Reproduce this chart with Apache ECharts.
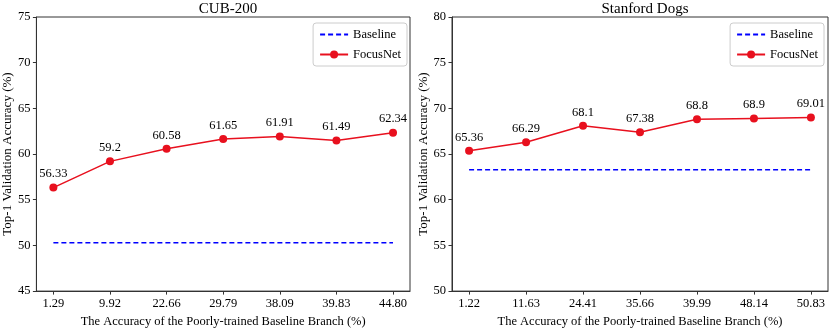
<!DOCTYPE html>
<html>
<head>
<meta charset="utf-8">
<script src="https://cdn.jsdelivr.net/npm/echarts@6/dist/echarts.min.js"></script>
<style>html,body{margin:0;padding:0;background:#fff}#c{width:830px;height:333px}</style>
</head>
<body>
<div id="c"></div>
<script>
const cubLabels = ['1.29','9.92','22.66','29.79','38.09','39.83','44.80'];
const cubFocus = [56.33, 59.2, 60.58, 61.65, 61.91, 61.49, 62.34];
const cubBaseline = [50.3, 50.3, 50.3, 50.3, 50.3, 50.3, 50.3];
const dogLabels = ['1.22','11.63','24.41','35.66','39.99','48.14','50.83'];
const dogFocus = [65.36, 66.29, 68.1, 67.38, 68.8, 68.9, 69.01];
const dogBaseline = [63.27, 63.27, 63.27, 63.27, 63.27, 63.27, 63.27];

const FONT = '"Liberation Serif", "DejaVu Serif", serif';
const FS = 12.5;
const RED = '#e8101e';
const BLUE = '#0000ff';
const idx = [0,1,2,3,4,5,6];

function xAxis(gi, labels){
  return {
    type:'value', gridIndex:gi, min:-0.3, max:6.3,
    name:'The Accuracy of the Poorly-trained Baseline Branch (%)',
    nameLocation:'middle', nameGap:21,
    nameTextStyle:{fontFamily:FONT, fontSize:FS, color:'#000'},
    axisLine:{show:true, onZero:false, lineStyle:{color:'#333', width:1}},
    axisTick:{show:true, length:3.5, customValues:idx, lineStyle:{color:'#333'}},
    axisLabel:{customValues:idx, formatter:v=>labels[Math.round(v)], fontFamily:FONT, fontSize:FS, color:'#000', margin:6},
    splitLine:{show:false}
  };
}
function yAxis(gi, min, max){
  return {
    type:'value', gridIndex:gi, min:min, max:max, interval:5,
    name:'Top-1 Validation Accuracy (%)',
    nameLocation:'middle', nameGap:21,
    nameTextStyle:{fontFamily:FONT, fontSize:13, color:'#000'},
    axisLine:{show:true, onZero:false, lineStyle:{color:'#333', width:1}},
    axisTick:{show:true, length:3.5, lineStyle:{color:'#333'}},
    axisLabel:{fontFamily:FONT, fontSize:FS, color:'#000', margin:6},
    splitLine:{show:false}
  };
}
function pairs(arr){ return arr.map((v,i)=>[i,v]); }
function seriesFor(gi, base, focus){
  return [
    {name:'Baseline', type:'line', xAxisIndex:gi, yAxisIndex:gi, data:pairs(base),
     symbol:'none', lineStyle:{color:BLUE, width:1.5, type:[5,3]}, itemStyle:{color:BLUE}, silent:true},
    {name:'FocusNet', type:'line', xAxisIndex:gi, yAxisIndex:gi, data:pairs(focus),
     symbol:'circle', symbolSize:8, lineStyle:{color:RED, width:1.5}, itemStyle:{color:RED},
     label:{show:true, position:'top', distance:3, formatter:p=>String(p.value[1]), fontFamily:FONT, fontSize:FS, color:'#000'}}
  ];
}
function legend(right){
  return {
    right:right, top:23, orient:'vertical', itemWidth:28, itemHeight:10, itemGap:7,
    padding:[5,6,5,6], borderColor:'#ccc', borderWidth:1, borderRadius:3, backgroundColor:'#fff',
    textStyle:{fontFamily:FONT, fontSize:FS, color:'#000'},
    data:[{name:'Baseline', itemStyle:{opacity:0}}, 'FocusNet']
  };
}

const chart = echarts.init(document.getElementById('c'), null, {renderer:'canvas'});
chart.setOption({
  animation:false,
  title:[
    {text:'CUB-200', left:223, top:-3, textAlign:'center', textStyle:{fontFamily:FONT, fontSize:15, fontWeight:'normal', color:'#000'}},
    {text:'Stanford Dogs', left:640, top:-3, textAlign:'center', textStyle:{fontFamily:FONT, fontSize:15, fontWeight:'normal', color:'#000'}}
  ],
  grid:[
    {left:36, right:420, top:17, bottom:35, show:true, borderColor:'#333', borderWidth:1},
    {left:452, right:2, top:17, bottom:35, show:true, borderColor:'#333', borderWidth:1}
  ],
  legend:[legend(423), legend(6)],
  xAxis:[xAxis(0, cubLabels), xAxis(1, dogLabels)],
  yAxis:[yAxis(0, 45, 75), yAxis(1, 50, 80)],
  series:[...seriesFor(0, cubBaseline, cubFocus), ...seriesFor(1, dogBaseline, dogFocus)]
});
</script>
</body>
</html>
